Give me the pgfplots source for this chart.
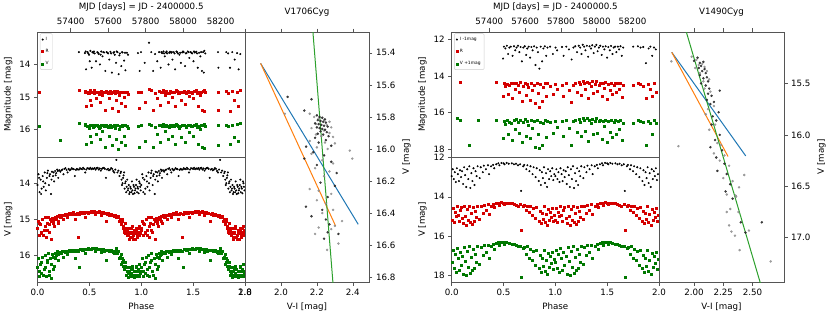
\documentclass[border=0pt]{standalone}
\usepackage{pgfplots}
\pgfplotsset{compat=1.18}
\usepackage{pgfplotstable}
\usepackage{fontspec}
\setmainfont{DejaVu Sans}
\definecolor{mplblue}{HTML}{1F77B4}
\definecolor{mplorange}{HTML}{FF7F0E}
\definecolor{mplgreen}{HTML}{2CA02C}
\definecolor{rred}{HTML}{D40000}
\definecolor{vgreen}{HTML}{007800}
\definecolor{spine}{HTML}{555555}

% ---------- V1706Cyg: light curve vs MJD ----------
\pgfplotstableread{
mjd I R V
57230 nan 14.85 15.90
57343 nan nan 16.32
57444 13.62 14.78 15.80
57476 13.65 14.85 15.88
57480 13.60 14.82 15.85
57482 14.15 15.30 16.45
57490 13.62 14.84 15.90
57494 13.66 14.88 15.90
57498 13.70 14.90 15.95
57502 13.90 15.10 16.20
57505 13.58 14.80 15.86
57512 14.10 15.25 16.40
57516 13.62 14.84 15.88
57520 13.64 14.86 15.92
57524 13.60 14.80 15.86
57528 13.66 14.88 15.90
57535 13.90 15.05 16.15
57542 13.62 14.84 15.87
57546 13.64 14.86 15.90
57550 13.68 14.92 15.95
57556 14.00 15.15 16.30
57560 13.70 14.90 15.92
57563 13.60 14.82 15.86
57570 13.75 14.95 16.05
57574 13.62 14.86 15.88
57578 13.63 14.85 15.90
57585 14.20 15.40 16.55
57592 13.62 14.83 15.88
57596 13.64 14.84 15.90
57600 13.66 14.87 15.92
57606 13.85 15.05 16.20
57612 13.61 14.82 15.86
57616 13.66 14.88 15.92
57620 14.25 15.35 16.50
57628 13.64 14.86 15.89
57632 13.62 14.82 15.86
57635 13.70 14.90 15.95
57642 13.95 15.10 16.30
57646 13.60 14.84 15.88
57650 13.62 14.83 15.87
57656 14.30 15.45 16.62
57660 13.72 14.95 15.98
57663 13.66 14.86 15.90
57670 14.05 15.20 16.40
57674 13.62 14.86 15.90
57677 13.63 14.84 15.88
57685 13.88 15.00 16.20
57690 13.64 14.84 15.86
57692 14.18 15.30 16.50
57700 13.64 14.85 15.90
57706 13.70 14.92 15.95
57759 13.65 14.86 15.90
57768 14.20 15.35 16.55
57775 13.62 14.84 15.88
57795 13.95 15.15 16.35
57818 13.33 14.76 15.85
57830 13.62 14.80 15.86
57840 14.20 15.40 16.55
57850 13.68 14.88 15.92
57862 13.90 15.05 16.15
57872 13.62 14.83 15.87
57880 14.10 15.25 16.40
57884 13.62 14.84 15.88
57888 13.65 14.86 15.90
57895 13.60 14.80 15.85
57898 13.66 14.86 15.90
57902 13.75 14.95 16.05
57908 13.63 14.84 15.88
57912 13.60 14.82 15.86
57915 13.66 14.88 15.90
57922 14.00 15.15 16.30
57926 13.64 14.88 15.92
57930 13.61 14.82 15.86
57936 13.64 14.85 15.89
57940 13.62 14.85 15.88
57943 13.85 15.00 16.20
57950 13.62 14.84 15.88
57954 13.66 14.84 15.90
57957 14.15 15.30 16.45
57964 13.60 14.80 15.85
57968 13.62 14.82 15.86
57972 13.66 14.87 15.90
57980 13.70 14.90 15.95
57984 13.64 14.86 15.90
57988 13.95 15.10 16.25
57995 13.63 14.84 15.88
57999 13.60 14.84 15.88
58003 13.62 14.82 15.86
58010 14.05 15.22 16.40
58014 13.66 14.88 15.92
58018 13.65 14.86 15.90
58025 13.60 14.81 15.86
58029 13.62 14.84 15.88
58033 13.80 14.98 16.10
58040 13.62 14.84 15.88
58044 13.64 14.86 15.90
58048 13.66 14.88 15.91
58055 13.90 15.05 16.20
58058 13.60 14.82 15.86
58062 13.63 14.83 15.87
58070 13.61 14.80 15.85
58074 13.66 14.88 15.92
58078 14.10 15.28 16.45
58085 13.64 14.86 15.89
58092 13.75 14.95 16.00
58096 13.62 14.84 15.88
58100 14.20 15.40 16.55
58107 13.62 14.82 15.86
58110 14.25 15.45 16.58
58113 13.58 14.78 15.83
58118 13.66 14.86 15.90
58186 13.62 14.84 15.88
58188 14.10 15.40 16.50
58230 13.62 14.83 15.87
58240 13.66 14.90 15.91
58250 14.10 15.45 16.45
58262 13.62 14.82 15.88
58275 13.85 15.10 16.25
58288 13.65 14.86 15.85
58296 14.15 15.30 16.35
58305 13.68 14.78 15.82
}\lcA

% ---------- V1706Cyg: phased ----------
\pgfplotstableread{
ph I R V
0.00 14.05 15.25 16.35
0.01 13.75 15.05 16.10
0.015 13.85 15.10 16.45
0.02 14.25 15.45 16.60
0.03 13.90 15.15 16.25
0.035 14.30 15.35 16.20
0.04 14.15 15.40 16.50
0.05 13.80 15.00 16.05
0.055 13.95 15.45 16.55
0.06 14.10 15.30 16.40
0.07 13.70 14.95 16.00
0.075 14.00 15.20 16.35
0.08 14.20 15.50 16.60
0.09 13.85 15.10 16.20
0.095 13.72 15.30 16.15
0.10 13.65 14.95 15.95
0.11 14.05 15.35 16.45
0.115 13.80 15.15 16.55
0.12 13.75 15.00 16.10
0.13 14.30 15.55 16.65
0.135 13.90 15.05 16.25
0.14 13.68 14.98 15.98
0.15 13.80 15.05 16.05
0.155 13.70 15.10 16.40
0.16 13.95 15.20 16.30
0.17 13.66 14.95 15.95
0.175 13.78 14.98 16.10
0.18 13.72 15.00 16.00
0.19 13.62 14.92 15.90
0.195 13.66 15.05 15.98
0.20 13.85 15.10 16.15
0.21 13.64 14.90 15.92
0.22 13.68 14.95 15.95
0.23 13.64 14.92 15.94
0.24 13.62 14.88 15.90
0.25 13.75 15.00 16.05
0.26 13.60 14.88 15.88
0.27 13.58 14.86 15.92
0.28 13.63 14.86 15.90
0.29 13.70 14.95 15.97
0.30 13.60 14.85 15.88
0.31 13.64 14.84 15.86
0.32 13.62 14.86 15.89
0.33 13.58 14.83 15.86
0.34 13.60 14.82 15.88
0.35 13.61 14.85 15.87
0.36 13.80 15.00 16.10
0.37 13.63 14.86 15.90
0.38 13.60 14.84 15.86
0.39 13.62 15.50 15.88
0.40 13.62 14.85 16.33
0.41 13.58 14.82 15.85
0.42 13.60 14.84 15.84
0.43 13.61 14.84 15.86
0.44 13.57 14.82 15.86
0.45 13.60 14.83 15.84
0.46 13.70 14.95 15.95
0.47 13.62 14.80 15.84
0.48 13.58 14.81 15.85
0.49 13.59 14.83 15.82
0.50 13.60 14.82 15.84
0.51 13.57 14.80 15.83
0.52 13.61 14.78 15.84
0.53 13.59 14.79 15.82
0.54 13.60 14.80 15.80
0.55 13.58 14.78 15.81
0.56 13.62 14.85 15.90
0.57 13.58 14.82 15.82
0.58 13.57 14.80 15.83
0.59 13.62 14.79 15.85
0.60 13.59 14.81 15.84
0.61 13.65 14.88 15.92
0.62 13.60 14.84 15.84
0.63 13.58 14.82 15.85
0.64 13.57 14.83 15.88
0.65 13.60 14.83 15.86
0.66 13.85 15.05 16.15
0.67 13.62 14.86 15.86
0.68 13.60 14.84 15.86
0.69 13.64 14.88 15.90
0.70 13.62 14.86 15.88
0.71 13.58 14.85 15.87
0.72 13.60 14.90 15.88
0.73 13.66 14.90 15.92
0.74 13.70 14.92 15.95
0.75 13.62 14.88 15.90
0.76 13.35 14.95 15.80
0.77 13.70 14.95 15.95
0.78 13.65 14.92 15.90
0.79 13.80 15.05 16.10
0.80 13.72 15.00 16.05
0.805 13.68 15.10 15.98
0.81 13.90 15.15 16.25
0.815 14.05 15.00 16.20
0.82 14.00 15.05 16.10
0.825 13.85 15.20 16.15
0.83 13.78 15.25 16.30
0.835 13.70 15.30 16.40
0.84 14.15 15.35 16.40
0.845 14.00 15.40 16.30
0.85 13.95 15.10 16.20
0.855 14.25 15.25 16.55
0.86 14.10 15.30 16.45
0.865 13.90 15.45 16.35
0.87 14.20 15.45 16.50
0.875 14.15 15.35 16.62
0.88 14.05 15.25 16.35
0.885 14.30 15.55 16.45
0.89 14.25 15.50 16.55
0.895 14.10 15.40 16.60
0.90 14.15 15.35 16.40
0.905 14.25 15.25 16.50
0.91 13.95 15.20 16.30
0.915 14.20 15.50 16.38
0.92 14.30 15.55 16.60
0.925 14.05 15.45 16.55
0.93 14.10 15.30 16.45
0.935 14.28 15.35 16.62
0.94 14.20 15.40 16.55
0.945 14.15 15.55 16.45
0.95 14.05 15.25 16.35
0.955 13.90 15.30 16.30
0.96 14.25 15.45 16.60
0.965 14.10 15.50 16.55
0.97 14.15 15.35 16.45
0.975 14.28 15.25 16.40
0.98 13.95 15.20 16.25
0.985 14.00 15.45 16.58
0.99 14.10 15.40 16.50
0.995 14.20 15.30 16.45
}\phA

% ---------- V1706Cyg: CMD ----------
\pgfplotstableread{
vi V
2.037 15.675
2.170 15.690
2.130 15.760
2.200 15.790
2.215 15.800
2.230 15.805
2.245 15.815
2.205 15.820
2.220 15.825
2.235 15.830
2.250 15.835
2.190 15.840
2.210 15.845
2.225 15.850
2.240 15.855
2.260 15.860
2.200 15.865
2.215 15.870
2.230 15.875
2.245 15.880
2.220 15.890
2.255 15.895
2.205 15.905
2.235 15.910
2.265 15.920
2.190 15.930
2.250 15.945
2.210 15.960
2.140 15.985
2.280 15.980
2.180 16.020
2.240 16.040
2.130 16.060
2.280 16.080
2.200 16.100
2.310 16.150
2.220 16.210
2.300 16.230
2.260 16.300
2.139 16.360
2.230 16.380
2.170 16.420
2.250 16.440
2.270 16.470
2.260 16.520
2.320 16.530
2.240 16.560
}\cmdAblack
\pgfplotstableread{
vi V
2.022 15.780
2.160 15.780
2.185 15.800
2.210 15.810
2.240 15.820
2.270 15.830
2.195 15.845
2.255 15.850
2.280 15.865
2.170 15.870
2.240 15.885
2.270 15.900
2.195 15.910
2.225 15.920
2.290 15.925
2.160 15.950
2.245 15.960
2.300 15.965
2.200 15.990
2.260 16.000
2.383 16.010
2.170 16.030
2.397 16.060
2.230 16.070
2.290 16.090
2.190 16.120
2.270 16.140
2.240 16.170
2.160 16.250
2.210 16.260
2.280 16.280
2.200 16.320
2.250 16.340
2.290 16.380
2.230 16.400
2.340 16.450
2.210 16.490
2.280 16.500
2.300 16.480
2.190 16.530
2.320 16.590
2.257 16.630
}\cmdAgray

% ---------- V1490Cyg: light curve vs MJD ----------
\pgfplotstableread{
mjd I R V
57218 nan nan 16.32
57236 nan 14.36 nan
57240 nan nan 16.42
57288 nan nan 17.78
57339 nan nan 16.40
57441 nan 14.35 16.40
57477 13.05 15.10 17.40
57482 12.40 14.40 16.45
57490 12.50 14.55 16.65
57498 12.35 14.45 16.40
57505 12.80 15.00 17.20
57512 12.45 14.50 16.50
57520 12.40 14.38 16.55
57530 12.90 15.20 17.50
57538 12.38 14.42 16.42
57545 12.60 14.70 16.90
57552 12.45 14.40 16.38
57560 12.35 14.50 16.50
57568 12.70 14.90 17.10
57575 12.42 14.35 16.40
57582 13.20 15.40 17.60
57590 12.45 14.55 16.50
57598 12.38 14.38 16.38
57606 12.85 15.05 17.30
57612 12.50 14.45 16.45
57620 12.40 14.60 16.70
57628 13.00 15.30 17.40
57635 12.42 14.40 16.42
57642 12.60 14.80 16.85
57650 12.38 14.48 16.45
57658 13.40 15.50 17.90
57665 12.45 14.40 16.40
57672 12.70 14.95 17.15
57680 13.60 15.70 17.95
57687 12.40 14.45 16.50
57695 13.20 15.35 17.80
57702 12.50 14.60 16.60
57710 12.38 14.40 16.42
57718 12.90 15.10 17.35
57725 12.45 14.42 16.45
57740 12.40 14.55 16.50
57755 12.80 15.00 17.10
57770 12.45 14.45 16.45
57779 12.60 14.70 16.80
57806 12.42 14.50 16.48
57815 12.90 15.10 17.30
57830 12.40 14.40 16.40
57845 12.55 14.75 16.85
57860 13.10 15.45 17.80
57870 12.45 14.50 16.45
57880 12.38 14.40 16.40
57890 12.70 14.90 17.05
57900 12.35 14.35 16.38
57908 12.45 14.45 16.50
57915 12.80 15.05 17.30
57922 12.30 14.30 16.30
57930 12.40 14.38 16.42
57937 12.60 14.70 17.00
57945 12.35 14.32 16.30
57952 12.95 15.20 17.55
57960 12.38 14.40 16.40
57968 12.50 14.55 16.60
57975 12.32 14.30 16.35
57983 12.75 14.95 17.20
57990 12.40 14.45 16.45
57998 12.30 14.30 16.32
58005 12.65 14.85 17.10
58012 12.45 14.50 16.48
58020 12.35 14.38 16.40
58028 12.85 15.10 17.45
58035 12.40 14.42 16.45
58043 12.55 14.65 16.75
58050 12.38 14.35 16.40
58058 13.00 15.25 17.60
58065 12.42 14.45 16.45
58073 12.60 14.80 17.05
58080 12.36 14.40 16.42
58088 12.80 15.00 17.35
58095 12.45 14.50 16.50
58103 12.40 14.42 16.40
58110 12.70 14.90 17.15
58118 12.40 14.40 16.48
58125 12.55 14.70 16.90
58133 12.38 14.38 16.42
58140 12.90 15.15 17.50
58148 12.45 14.50 16.55
58204 12.40 14.50 16.60
58230 12.38 14.40 16.42
58245 12.45 14.45 16.45
58260 12.42 14.55 16.50
58275 13.30 15.20 17.80
58290 12.50 14.45 16.45
58300 12.40 14.70 16.60
58310 12.90 15.10 17.20
58320 12.45 14.40 16.40
58330 12.55 14.90 16.55
}\lcB

% ---------- V1490Cyg: phased ----------
\pgfplotstableread{
ph I R V
0.00 12.95 15.20 17.30
0.01 12.60 14.60 16.70
0.02 13.10 15.30 17.60
0.03 12.75 14.80 16.90
0.04 13.25 15.00 17.80
0.05 12.55 14.50 16.60
0.06 12.85 14.95 17.10
0.07 13.20 15.25 17.70
0.08 12.65 14.70 16.80
0.09 13.00 14.55 17.45
0.10 12.70 15.10 17.00
0.11 13.35 15.35 17.90
0.12 12.50 14.50 16.55
0.13 12.90 15.00 17.25
0.14 13.50 15.45 17.95
0.15 12.60 14.65 16.75
0.16 13.10 15.20 17.55
0.17 12.45 14.45 16.50
0.18 13.55 15.30 17.85
0.19 12.80 14.85 17.05
0.20 13.20 15.40 17.70
0.21 12.55 14.55 16.65
0.22 13.40 15.25 17.60
0.23 12.70 14.75 16.90
0.24 12.95 15.05 17.30
0.25 12.45 14.50 16.50
0.27 13.05 15.15 17.40
0.28 12.50 14.45 16.55
0.30 12.75 14.85 16.95
0.31 12.42 14.40 16.45
0.33 12.60 14.70 16.80
0.35 12.40 14.38 16.45
0.36 12.85 14.90 17.10
0.38 12.45 14.45 16.50
0.40 12.38 14.35 16.40
0.41 12.55 14.55 16.65
0.43 12.35 14.32 16.35
0.45 12.30 14.30 16.32
0.46 12.40 14.40 16.45
0.48 12.28 14.28 16.30
0.50 12.30 14.30 16.28
0.51 12.35 14.35 16.40
0.53 12.28 14.30 16.32
0.55 12.32 14.32 16.35
0.58 12.30 14.32 16.38
0.60 12.35 14.35 16.42
0.62 12.32 14.40 16.45
0.64 12.40 14.45 16.50
0.66 12.35 14.38 16.48
0.67 13.70 15.70 18.10
0.69 12.45 14.50 16.60
0.70 12.38 14.40 16.55
0.72 12.60 14.70 16.90
0.73 12.40 14.45 16.50
0.75 12.70 14.80 17.10
0.76 12.45 14.50 16.65
0.78 12.85 14.95 17.20
0.79 12.50 14.60 16.75
0.81 13.00 15.10 17.45
0.82 12.55 14.55 16.70
0.84 13.20 15.25 17.60
0.85 12.65 14.75 16.95
0.86 13.40 15.35 17.80
0.87 12.75 14.85 17.10
0.88 13.05 15.15 17.50
0.89 12.50 14.50 16.70
0.90 13.30 15.30 17.75
0.91 12.80 14.90 17.20
0.92 13.50 15.45 17.90
0.93 12.60 14.65 16.85
0.94 13.10 15.20 17.55
0.95 12.70 14.80 17.00
0.96 12.95 15.05 17.35
0.97 12.55 14.60 16.80
0.98 13.15 15.25 17.65
0.99 12.85 14.95 17.15
}\phB

% ---------- V1490Cyg: CMD ----------
\pgfplotstableread{
vi V
2.00 15.28
2.03 15.25
2.05 15.30
2.06 15.33
2.08 15.29
2.04 15.35
2.07 15.38
2.09 15.36
2.10 15.40
2.05 15.42
2.08 15.45
2.11 15.44
2.12 15.48
2.06 15.50
2.10 15.52
2.13 15.55
2.22 15.57
2.12 15.60
2.15 15.62
2.11 15.66
2.14 15.70
2.17 15.68
2.21 15.78
2.16 15.82
2.19 15.86
2.15 15.90
2.22 16.00
2.18 16.05
2.14 16.12
2.24 16.15
2.19 16.22
2.26 16.28
2.28 16.38
2.20 16.35
2.31 16.48
2.27 16.55
2.33 16.62
2.40 16.85
2.58 16.85
2.44 16.95
}\cmdBblack
\pgfplotstableread{
vi V
1.806 15.285
1.98 15.24
2.02 15.27
2.04 15.32
2.07 15.31
2.01 15.35
2.09 15.34
2.05 15.40
2.11 15.38
2.08 15.48
2.13 15.46
2.09 15.55
2.14 15.58
2.12 15.75
2.17 15.72
2.10 15.80
2.18 15.90
2.13 15.95
1.866 16.11
2.20 16.08
2.23 16.10
2.17 16.18
2.26 16.20
2.22 16.25
2.30 16.30
2.43 16.39
2.25 16.42
2.33 16.45
2.385 16.51
2.356 16.59
2.28 16.58
2.36 16.60
2.31 16.72
2.28 16.75
2.38 16.75
2.30 16.88
2.32 16.94
2.47 16.93
2.35 16.98
2.39 17.12
2.656 17.23
}\cmdBgray

\pgfplotsset{
  mpl/.style={
    scale only axis,
    axis line style={spine, line width=0.6pt},
    every tick/.style={spine, line width=0.6pt},
    tick align=outside,
    major tick length=3.5pt,
    minor tick num=0,
    font=\fontsize{8.7}{10}\selectfont,
    tick label style={font=\fontsize{8.7}{10}\selectfont},
    /pgf/number format/assume math mode=true,
    /pgf/number format/1000 sep={},
    legend cell align=left,
  },
  mjdticks/.style={scaled x ticks=false,
    xticklabel style={/pgf/number format/.cd, fixed, precision=0, 1000 sep={}}},
  lcI/.style={only marks, mark=*, mark size=0.8pt, color=black},
  lcR/.style={only marks, mark=square*, mark size=1.0pt, color=rred},
  lcV/.style={only marks, mark=square*, mark size=1.0pt, color=vgreen},
  cmdk/.style={only marks, mark=*, mark size=1.05pt, color=black!85, opacity=0.85},
  cmdg/.style={only marks, mark=*, mark size=1.05pt, color=black!45, opacity=0.8},
  fitline/.style={line width=1.0pt, no marks},
  lg/.style={legend style={at={(0.012,0.988)}, anchor=north west,
     font=\fontsize{4.4}{5}\selectfont, draw=black!20, rounded corners=1pt,
     inner xsep=1.5pt, inner ysep=1.5pt, row sep=3.4pt,
     cells={anchor=west}},
     legend image code/.code={\draw[mark repeat=2,mark phase=2,##1] plot coordinates {(0pt,0pt) (3pt,0pt) (6pt,0pt)};}},
}

\begin{document}
\begin{tikzpicture}[x=1pt,y=1pt]
\useasboundingbox (0,0) rectangle (830,316);

% ================= V1706Cyg =================
\begin{axis}[mpl, lg, mjdticks, at={(37.5pt,159pt)}, anchor=south west, width=207.5pt, height=125pt,
  xmin=57223, xmax=58330, ymin=13.0, ymax=16.85, y dir=reverse,
  xtick={57400,57600,57800,58000,58200}, xtick pos=right, xticklabel pos=right,
  ytick={14,15,16}, ytick pos=left,
  xlabel={MJD [days] = JD - 2400000.5}, ylabel={Magnitude [mag]}]
\addplot[lcI] table[x=mjd,y=I]{\lcA}; \addlegendentry{I}
\addplot[lcR] table[x=mjd,y=R]{\lcA}; \addlegendentry{R}
\addplot[lcV] table[x=mjd,y=V]{\lcA}; \addlegendentry{V}
\end{axis}

\begin{axis}[mpl, at={(37.5pt,34pt)}, anchor=south west, width=207.5pt, height=125pt,
  xmin=0, xmax=2, ymin=13.27, ymax=16.75, y dir=reverse,
  xtick={0,0.5,1,1.5,2}, xtick pos=left,
  xticklabel style={/pgf/number format/.cd, fixed, fixed zerofill, precision=1},
  ytick={14,15,16}, ytick pos=left,
  xlabel={Phase}, ylabel={V [mag]}]
\addplot[lcI] table[x=ph,y=I]{\phA};
\addplot[lcI] table[x expr=\thisrow{ph}+1,y=I]{\phA};
\addplot[lcR] table[x=ph,y=R]{\phA};
\addplot[lcR] table[x expr=\thisrow{ph}+1,y=R]{\phA};
\addplot[lcV] table[x=ph,y=V]{\phA};
\addplot[lcV] table[x expr=\thisrow{ph}+1,y=V]{\phA};
\end{axis}

\begin{axis}[mpl, at={(245pt,34pt)}, anchor=south west, width=124pt, height=250pt,
  xmin=1.8, xmax=2.49, ymin=15.27, ymax=16.83, y dir=reverse,
  xtick={1.8,2.0,2.2,2.4}, xtick pos=both, xticklabel pos=left,
  xticklabel style={/pgf/number format/.cd, fixed, fixed zerofill, precision=1},
  ytick={15.4,15.6,15.8,16.0,16.2,16.4,16.6,16.8}, ytick pos=right, yticklabel pos=right,
  yticklabel style={/pgf/number format/.cd, fixed, fixed zerofill, precision=1},
  xlabel={V-I [mag]}, ylabel={V [mag]},
  title={V1706Cyg}, title style={at={(0.5,1)}, anchor=south, yshift=6pt}]
\addplot[cmdg] table[x=vi,y=V]{\cmdAgray};
\addplot[cmdk] table[x=vi,y=V]{\cmdAblack};
\addplot[fitline, mplblue] coordinates {(1.887,15.466) (2.43,16.47)};
\addplot[fitline, mplorange] coordinates {(1.887,15.466) (2.304,16.48)};
\addplot[fitline, mplgreen] coordinates {(2.173,15.20) (2.294,16.90)};
\end{axis}

% ================= V1490Cyg =================
\begin{axis}[mpl, lg, mjdticks, at={(451.7pt,159pt)}, anchor=south west, width=207.3pt, height=125pt,
  xmin=57190, xmax=58348, ymin=11.6, ymax=18.42, y dir=reverse,
  xtick={57400,57600,57800,58000,58200}, xtick pos=right, xticklabel pos=right,
  ytick={12,14,16,18}, ytick pos=left,
  xlabel={MJD [days] = JD - 2400000.5}, ylabel={Magnitude [mag]}]
\addplot[lcI] table[x=mjd,y=I]{\lcB}; \addlegendentry{I -1mag}
\addplot[lcR] table[x=mjd,y=R]{\lcB}; \addlegendentry{R}
\addplot[lcV] table[x=mjd,y=V]{\lcB}; \addlegendentry{V +1mag}
\end{axis}

\begin{axis}[mpl, at={(451.7pt,34pt)}, anchor=south west, width=207.3pt, height=125pt,
  xmin=0, xmax=2, ymin=11.98, ymax=18.32, y dir=reverse,
  xtick={0,0.5,1,1.5,2}, xtick pos=left,
  xticklabel style={/pgf/number format/.cd, fixed, fixed zerofill, precision=1},
  ytick={12,14,16,18}, ytick pos=left,
  xlabel={Phase}, ylabel={V [mag]}]
\addplot[lcI] table[x=ph,y=I]{\phB};
\addplot[lcI] table[x expr=\thisrow{ph}+1,y=I]{\phB};
\addplot[lcR] table[x=ph,y=R]{\phB};
\addplot[lcR] table[x expr=\thisrow{ph}+1,y=R]{\phB};
\addplot[lcV] table[x=ph,y=V]{\phB};
\addplot[lcV] table[x expr=\thisrow{ph}+1,y=V]{\phB};
\end{axis}

\begin{axis}[mpl, at={(659pt,34pt)}, anchor=south west, width=125pt, height=250pt,
  xmin=1.70, xmax=2.77, ymin=15.0, ymax=17.43, y dir=reverse,
  xtick={2.0,2.25,2.5}, xtick pos=both, xticklabel pos=left,
  xticklabel style={/pgf/number format/.cd, fixed, fixed zerofill, precision=2},
  ytick={15.5,16.0,16.5,17.0}, ytick pos=right, yticklabel pos=right,
  yticklabel style={/pgf/number format/.cd, fixed, fixed zerofill, precision=1},
  xlabel={V-I [mag]}, ylabel={V [mag]},
  title={V1490Cyg}, title style={at={(0.5,1)}, anchor=south, yshift=6pt}]
\addplot[cmdg] table[x=vi,y=V]{\cmdBgray};
\addplot[cmdk] table[x=vi,y=V]{\cmdBblack};
\addplot[fitline, mplblue] coordinates {(1.809,15.197) (2.442,16.204)};
\addplot[fitline, mplorange] coordinates {(1.809,15.197) (2.291,16.21)};
\addplot[fitline, mplgreen] coordinates {(1.908,14.90) (2.583,17.50)};
\end{axis}
\end{tikzpicture}
\end{document}
